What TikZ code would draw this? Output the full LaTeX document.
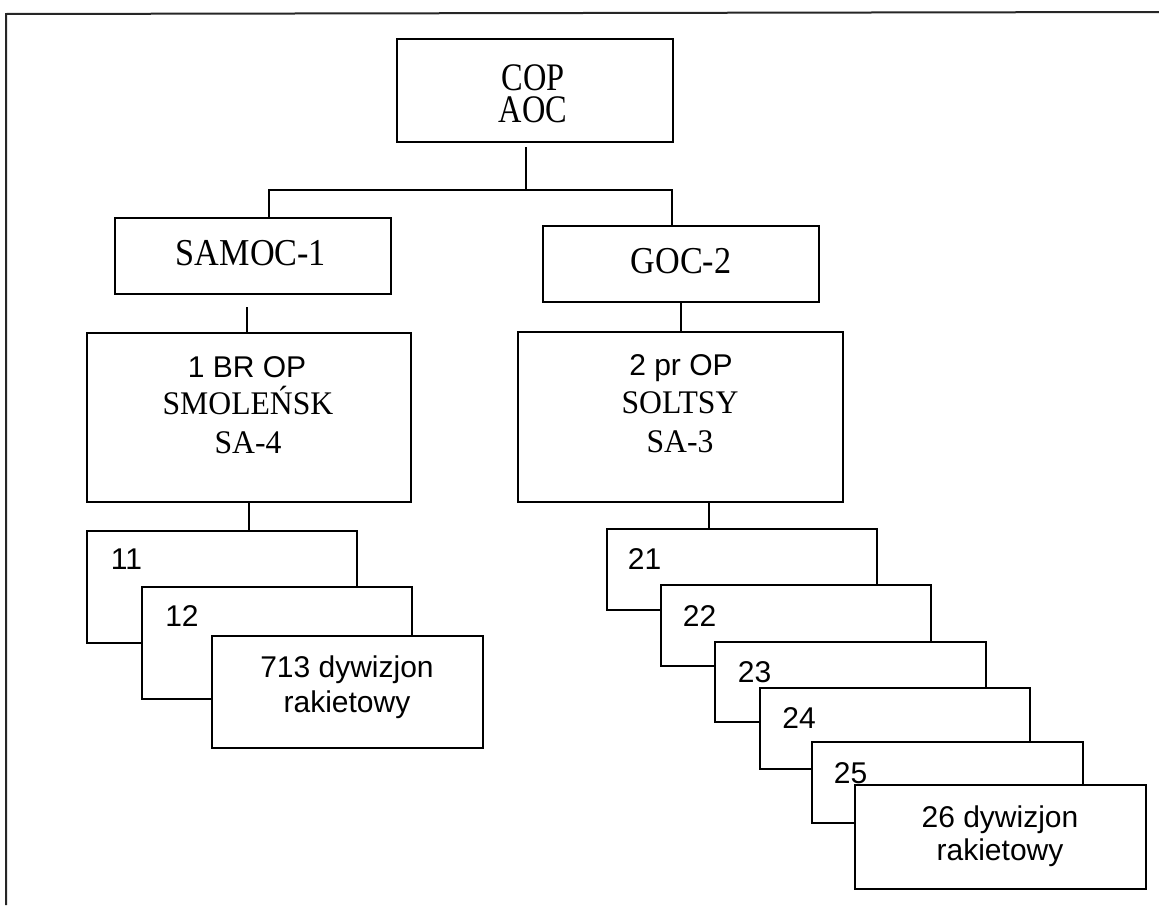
\documentclass[tikz,border=0pt]{standalone}
\usepackage{fontspec}
\setmainfont{Liberation Serif}
\newfontfamily\sansf{Liberation Sans}
\newfontfamily\serifb[FakeStretch=0.83]{Liberation Serif}
\newfontfamily\serifc[FakeStretch=0.9]{Liberation Serif}
\newfontfamily\serifd[FakeStretch=0.96]{Liberation Serif}
\usetikzlibrary{calc}
\tikzset{
  box/.style={draw, fill=white, line width=1.6pt, inner sep=0pt, outer sep=0pt, rectangle},
  conn/.style={line width=1.6pt},
  frameline/.style={line width=2pt, black!85},
  sanst/.style={inner sep=0pt, anchor=base, font=\sansf\fontsize{30}{36}\selectfont},
  serift/.style={inner sep=0pt, anchor=base, font=\serifb\fontsize{39}{40}\selectfont},
  serifl/.style={inner sep=0pt, anchor=base, font=\serifc\fontsize{38}{40}\selectfont},
  serifs/.style={inner sep=0pt, anchor=base, font=\serifd\fontsize{33}{38}\selectfont}
}
\begin{document}
\begin{tikzpicture}[x=1pt, y=-1pt]
\useasboundingbox (0,0) rectangle (1159,905);
% frame
\coordinate (fa) at (6,905);
\coordinate (fb) at (6,14);
\coordinate (fc) at (1159,12);
\draw[frameline] (fa) -- (fb) -- (fc);

% top level
\node[box, minimum width=276pt, minimum height=103pt] (cop) at (535,90.5) {};
\node[serift] (tcop) at (533,90) {COP};
\node[serift] (taoc) at (533,122) {AOC};

\node[box, minimum width=276pt, minimum height=76pt] (samoc) at (253,256) {};
\node[serifl] (tsamoc) at (251,265) {SAMOC-1};
\node[box, minimum width=276pt, minimum height=76pt] (goc) at (681,264) {};
\node[serifl] (tgoc) at (681,273) {GOC-2};

\coordinate (j) at (526,190);
\coordinate (jl) at (269,190);
\coordinate (jr) at (672,190);
\coordinate (jtop) at (526,147);
\draw[conn] (jtop) -- (j);
\draw[conn] (samoc.north -| jl) -- (jl) -- (jr) -- (goc.north -| jr);

% second level
\node[box, minimum width=324pt, minimum height=169pt] (br1) at (249,417.5) {};
\node[sanst] (tbr1) at (247,377) {1 BR OP};
\node[serifs] (tsmol) at (248,414) {SMOLEŃSK};
\node[serifs] (tsa4) at (248,453) {SA-4};

\node[box, minimum width=325pt, minimum height=170pt] (pr2) at (680.5,417) {};
\node[sanst] (tpr2) at (681,375) {2 pr OP};
\node[serifs] (tsol) at (680,413) {SOLTSY};
\node[serifs] (tsa3) at (680,452) {SA-3};

\coordinate (c1) at (247,307);
\draw[conn] (c1) -- (c1 |- br1.north);
\draw[conn] (goc.south) -- (goc.south |- pr2.north);

% left stack
\node[box, minimum width=270pt, minimum height=112pt] (b11) at (222,587) {};
\node[sanst] (t11) at (126.5,569) {11};
\node[box, minimum width=270pt, minimum height=112pt] (b12) at (277,643) {};
\node[sanst] (t12) at (182,626) {12};
\node[box, minimum width=271pt, minimum height=112pt] (b713) at (347.5,692) {};
\node[sanst] (t713a) at (347,677) {713 dywizjon};
\node[sanst] (t713b) at (347,712) {rakietowy};
\draw[conn] (br1.south) -- (br1.south |- b11.north);

% right stack
\node[box, minimum width=270pt, minimum height=81pt] (b21) at (742,569.5) {};
\node[sanst] (t21) at (644.5,569) {21};
\node[box, minimum width=270pt, minimum height=81pt] (b22) at (796,625.5) {};
\node[sanst] (t22) at (699.5,626) {22};
\node[box, minimum width=271pt, minimum height=80pt] (b23) at (850.5,682) {};
\node[sanst] (t23) at (754.5,682) {23};
\node[box, minimum width=270pt, minimum height=81pt] (b24) at (895,728.5) {};
\node[sanst] (t24) at (799,728) {24};
\node[box, minimum width=271pt, minimum height=81pt] (b25) at (947.5,782.5) {};
\node[sanst] (t25) at (850.5,783) {25};
\node[box, minimum width=291pt, minimum height=104pt] (b26) at (1000.5,837) {};
\node[sanst] (t26a) at (1000,827) {26 dywizjon};
\node[sanst] (t26b) at (1000,860) {rakietowy};

\coordinate (c2) at (709,502);
\draw[conn] (c2) -- (c2 |- b21.north);
\end{tikzpicture}
\end{document}
